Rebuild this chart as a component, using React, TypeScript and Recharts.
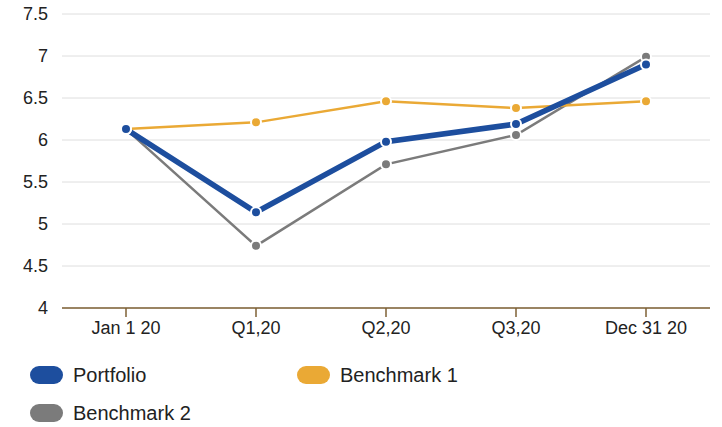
import React from "react";
import { LineChart, Line, XAxis, YAxis, CartesianGrid } from "recharts";

const periods = ["Jan 1 20", "Q1,20", "Q2,20", "Q3,20", "Dec 31 20"];
const portfolio = [6.13, 5.14, 5.98, 6.19, 6.9];
const benchmark1 = [6.13, 6.21, 6.46, 6.38, 6.46];
const benchmark2 = [6.13, 4.74, 5.71, 6.06, 6.99];
const yTicks = [4, 4.5, 5, 5.5, 6, 6.5, 7, 7.5];

const series = [
  { key: "portfolio", name: "Portfolio", color: "#1d4e9e", width: 5.5 },
  { key: "benchmark1", name: "Benchmark 1", color: "#eaa935", width: 2.5 },
  { key: "benchmark2", name: "Benchmark 2", color: "#7b7b7b", width: 2.5 },
];

const data = periods.map((p, i) => ({
  period: p,
  portfolio: portfolio[i],
  benchmark1: benchmark1[i],
  benchmark2: benchmark2[i],
}));

const font = "'Liberation Sans', Arial, sans-serif";

const App: React.FC = () => {
  return (
    <div
      style={{
        position: "absolute",
        left: 0,
        top: 0,
        width: 722,
        height: 427,
        background: "#fff",
        fontFamily: font,
      }}
    >
      <LineChart
        width={722}
        height={348}
        data={data}
        margin={{ top: 14, right: 12, left: 0, bottom: 0 }}
      >
        <CartesianGrid vertical={false} stroke="#dedede" strokeWidth={1} />
        <XAxis
          dataKey="period"
          padding={{ left: 64, right: 64 }}
          height={40}
          stroke="#7e6034"
          strokeWidth={1.5}
          tickSize={9}
          tickMargin={4}
          tick={{ fill: "#222", fontSize: 18, fontFamily: font }}
        />
        <YAxis
          domain={[4, 7.5]}
          ticks={yTicks}
          width={62}
          axisLine={false}
          tickLine={false}
          tickSize={0}
          tickMargin={14}
          tick={{ fill: "#222", fontSize: 18, fontFamily: font }}
        />
        {[...series].reverse().map((s) => (
          <Line
            key={s.key}
            dataKey={s.key}
            name={s.name}
            stroke={s.color}
            strokeWidth={s.width}
            dot={{ r: 5, fill: s.color, stroke: "#fff", strokeWidth: 2 }}
            activeDot={false}
            isAnimationActive={false}
          />
        ))}
      </LineChart>
      {series.map((s, i) => (
        <div
          key={s.key}
          style={{
            position: "absolute",
            left: i === 1 ? 297 : 30,
            top: i === 2 ? 400 : 362,
            height: 26,
            display: "flex",
            alignItems: "center",
            fontSize: 20,
            color: "#222",
          }}
        >
          <span
            style={{
              display: "inline-block",
              width: 33,
              height: 18,
              borderRadius: 9,
              background: s.color,
              marginRight: 10,
            }}
          />
          {s.name}
        </div>
      ))}
    </div>
  );
};

export default App;
